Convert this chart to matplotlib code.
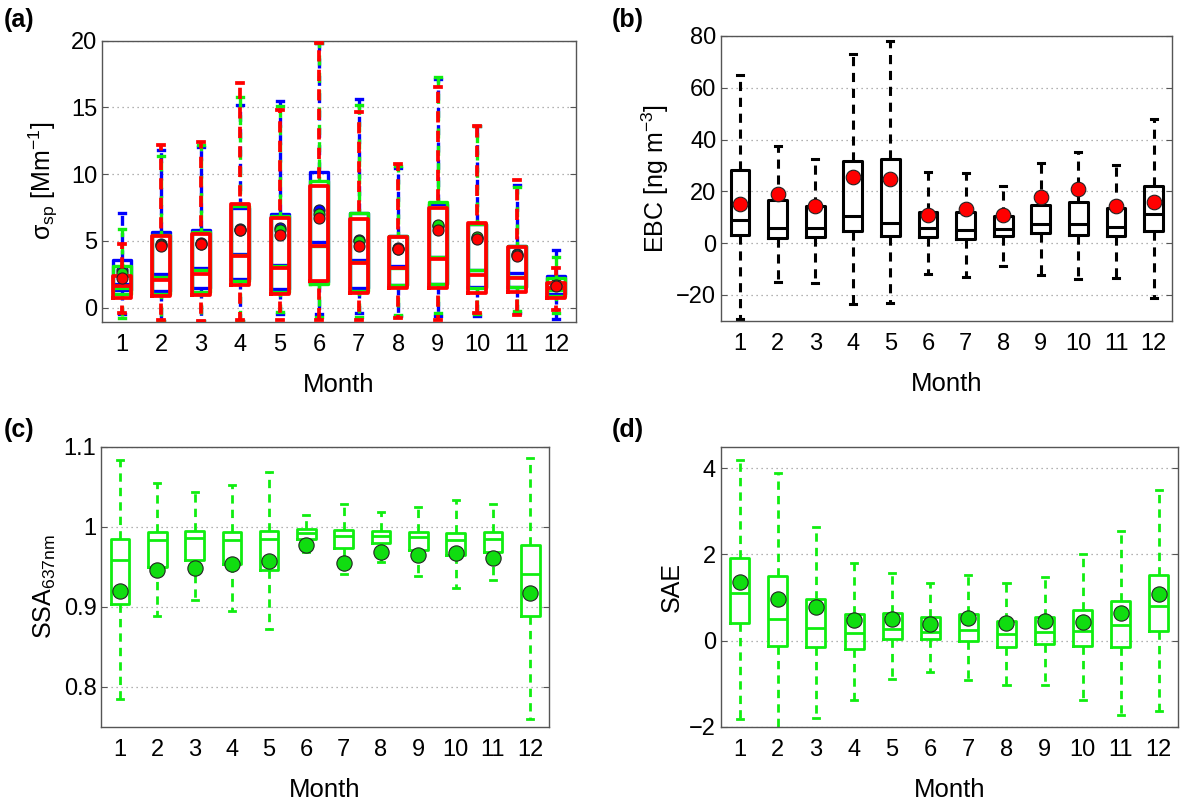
import matplotlib
matplotlib.use("Agg")
import matplotlib.pyplot as plt

plt.rcParams['font.family'] = ['Liberation Sans', 'DejaVu Sans']
plt.rcParams['mathtext.fontset'] = 'custom'
plt.rcParams['mathtext.rm'] = 'Liberation Sans'
plt.rcParams['mathtext.it'] = 'Liberation Sans:italic'
plt.rcParams['mathtext.sf'] = 'Liberation Sans'

months = list(range(1, 13))
month_labels = [str(m) for m in months]

# ---------------- panel (a): sigma_sp, three series ----------------
a_blue_lo  = [-0.5, -1.0, -1.0, -1.0, -0.5, -0.48, -0.4, -0.65, -0.6, -0.6, -0.4, -0.85]
a_blue_q1  = [1.33, 1.25, 1.45, 2.15, 1.4, 1.9, 1.45, 1.7, 1.75, 1.53, 1.58, 1.0]
a_blue_med = [1.8, 2.53, 2.95, 4.05, 3.2, 4.95, 3.58, 3.1, 3.83, 2.83, 2.58, 1.5]
a_blue_q3  = [3.6, 5.7, 5.83, 7.45, 7.05, 10.15, 7.08, 5.4, 7.8, 6.3, 4.6, 2.4]
a_blue_hi  = [7.1, 11.8, 12.05, 15.2, 15.5, 19.8, 15.6, 10.45, 17.1, 13.6, 9.2, 4.35]
a_blue_mean = [2.8, 4.8, 4.85, 5.9, 6.0, 7.3, 5.1, 4.45, 6.1, 5.25, 4.0, 1.75]

a_green_lo  = [-0.8, -1.0, -1.0, -1.0, -0.3, -0.7, -0.7, -0.55, -0.43, -0.5, -0.25, -0.38]
a_green_q1  = [1.03, 1.0, 1.2, 2.0, 1.2, 1.8, 1.25, 1.7, 1.75, 1.5, 1.58, 0.9]
a_green_med = [1.45, 2.33, 2.8, 3.95, 3.1, 4.6, 3.45, 3.0, 3.8, 2.83, 2.33, 1.35]
a_green_q3  = [3.13, 5.45, 5.7, 7.6, 6.9, 9.5, 7.08, 5.35, 7.9, 6.3, 4.6, 2.2]
a_green_hi  = [5.9, 11.4, 12.2, 15.75, 15.1, 19.8, 15.2, 10.6, 17.3, 13.6, 9.03, 3.8]
a_green_mean = [2.6, 4.7, 4.8, 5.85, 5.8, 7.0, 5.0, 4.4, 6.2, 5.3, 3.95, 1.7]

a_red_lo  = [-0.37, -0.95, -0.97, -0.93, -0.93, -0.93, -0.93, -0.8, -0.93, -0.43, -0.55, -0.17]
a_red_q1  = [0.75, 0.85, 0.95, 1.7, 1.05, 2.0, 1.08, 1.5, 1.5, 1.13, 1.2, 0.75]
a_red_med = [1.6, 2.08, 2.53, 3.9, 3.0, 4.6, 3.35, 2.95, 3.63, 2.45, 2.2, 1.45]
a_red_q3  = [2.4, 5.33, 5.53, 7.78, 6.7, 9.1, 6.65, 5.28, 7.45, 6.33, 4.53, 1.88]
a_red_hi  = [4.75, 12.2, 12.38, 16.8, 14.8, 19.8, 14.7, 10.75, 16.5, 13.6, 9.53, 3.0]
a_red_mean = [2.22, 4.58, 4.78, 5.83, 5.45, 6.7, 4.62, 4.38, 5.83, 5.13, 3.88, 1.63]

# ---------------- panel (b): EBC ----------------
b_lo  = [-29.2, -15.1, -15.3, -23.4, -23.2, -12.1, -12.9, -9.0, -12.5, -13.8, -13.4, -21.1]
b_q1  = [3.3, 1.9, 2.3, 4.6, 2.6, 2.3, 1.7, 2.7, 3.9, 3.2, 2.7, 4.5]
b_med = [8.8, 5.9, 5.8, 10.6, 7.7, 5.9, 5.2, 5.3, 7.5, 7.5, 6.2, 11.3]
b_q3  = [28.1, 16.5, 14.5, 31.9, 32.6, 12.2, 12.0, 10.3, 14.8, 15.8, 13.6, 21.9]
b_hi  = [64.8, 37.7, 32.6, 72.9, 77.9, 27.4, 27.0, 22.1, 30.9, 35.1, 30.3, 47.8]
b_mean = [15.2, 18.8, 14.5, 25.4, 24.8, 10.9, 13.3, 10.7, 18.0, 21.0, 14.2, 15.8]

# ---------------- panel (c): SSA 637 nm ----------------
c_lo  = [0.785, 0.888, 0.908, 0.895, 0.872, 0.969, 0.941, 0.956, 0.938, 0.924, 0.933, 0.760]
c_q1  = [0.904, 0.950, 0.959, 0.953, 0.946, 0.985, 0.974, 0.980, 0.971, 0.965, 0.969, 0.888]
c_med = [0.959, 0.983, 0.986, 0.983, 0.985, 0.9925, 0.988, 0.989, 0.9875, 0.983, 0.985, 0.941]
c_q3  = [0.985, 0.993, 0.995, 0.993, 0.995, 0.997, 0.996, 0.995, 0.993, 0.9925, 0.993, 0.977]
c_hi  = [1.084, 1.055, 1.043, 1.052, 1.068, 1.015, 1.029, 1.019, 1.025, 1.033, 1.029, 1.086]
c_mean = [0.920, 0.946, 0.948, 0.953, 0.957, 0.977, 0.955, 0.968, 0.965, 0.967, 0.961, 0.9175]

# ---------------- panel (d): SAE ----------------
d_lo  = [-1.82, -2.1, -1.80, -1.39, -0.89, -0.73, -0.91, -1.04, -1.03, -1.39, -1.73, -1.63]
d_q1  = [0.40, -0.12, -0.14, -0.19, 0.03, 0.03, -0.02, -0.14, -0.08, -0.12, -0.15, 0.22]
d_med = [1.11, 0.50, 0.29, 0.17, 0.27, 0.21, 0.25, 0.15, 0.21, 0.22, 0.36, 0.81]
d_q3  = [1.92, 1.49, 0.97, 0.61, 0.65, 0.55, 0.61, 0.45, 0.55, 0.72, 0.92, 1.53]
d_hi  = [4.19, 3.89, 2.64, 1.79, 1.56, 1.33, 1.52, 1.34, 1.48, 2.00, 2.54, 3.50]
d_mean = [1.36, 0.96, 0.77, 0.48, 0.50, 0.385, 0.53, 0.40, 0.45, 0.42, 0.63, 1.08]

GREEN = '#10ee10'
GREEN_M = '#10dd10'


def stats_from(lo, q1, med, q3, hi, mean):
    return [dict(whislo=a, q1=b, med=c, q3=d, whishi=e, mean=f, fliers=[])
            for a, b, c, d, e, f in zip(lo, q1, med, q3, hi, mean)]


def draw(ax, stats, color, lw, mface, ms, dash_off=0.0, width=0.45, z=2):
    ax.bxp(stats, positions=months, widths=width, showmeans=True, showfliers=False,
           manage_ticks=False, capwidths=0.16,
           boxprops=dict(color=color, linewidth=lw, zorder=z),
           whiskerprops=dict(color=color, linewidth=lw, linestyle=(dash_off, (3.0, 2.2)), zorder=z),
           capprops=dict(color=color, linewidth=lw, zorder=z),
           medianprops=dict(color=color, linewidth=lw, zorder=z),
           meanprops=dict(marker='o', markerfacecolor=mface, markeredgecolor='#222222',
                          markeredgewidth=0.8, markersize=ms, zorder=z + 1))


def style(ax, ylim, yticks, yticklabels, ylabel, xpad=12):
    ax.set_xlim(0.5, 12.5)
    ax.set_ylim(*ylim)
    ax.set_xticks(months)
    ax.set_xticklabels(month_labels)
    ax.set_yticks(yticks)
    ax.set_yticklabels(yticklabels)
    ax.yaxis.grid(True, linestyle=(0, (1, 3)), color='#999999', linewidth=0.9)
    ax.set_axisbelow(True)
    ax.tick_params(axis='both', labelsize=17, direction='in', length=4, color='#555555',
                   right=True, top=False)
    ax.tick_params(axis='x', length=0, pad=9)
    for s in ax.spines.values():
        s.set_color('#555555')
        s.set_linewidth(1.0)
    ax.set_xlabel('Month', fontsize=18.5, labelpad=xpad)
    ax.set_ylabel(ylabel, fontsize=18)


fig = plt.figure(figsize=(12, 8), dpi=100)
ax_a = fig.add_axes([0.085, 0.598, 0.395, 0.351])
ax_b = fig.add_axes([0.601, 0.599, 0.376, 0.356])
ax_c = fig.add_axes([0.0844, 0.0916, 0.373, 0.350])
ax_d = fig.add_axes([0.6006, 0.0916, 0.381, 0.350])

# (a)
draw(ax_a, stats_from(a_blue_lo, a_blue_q1, a_blue_med, a_blue_q3, a_blue_hi, a_blue_mean),
     '#0000ff', 2.4, '#0000ff', 8, dash_off=0.0, z=2)
draw(ax_a, stats_from(a_green_lo, a_green_q1, a_green_med, a_green_q3, a_green_hi, a_green_mean),
     GREEN, 2.4, GREEN_M, 8, dash_off=1.6, z=4)
draw(ax_a, stats_from(a_red_lo, a_red_q1, a_red_med, a_red_q3, a_red_hi, a_red_mean),
     '#ff0000', 2.7, '#ff0000', 8, dash_off=3.2, z=6)
style(ax_a, (-1.05, 20), [0, 5, 10, 15, 20], ['0', '5', '10', '15', '20'],
      'σ$_{\\rm sp}$ [Mm$^{-1}$]')
ax_a.yaxis.labelpad = 8

# (b)
draw(ax_b, stats_from(b_lo, b_q1, b_med, b_q3, b_hi, b_mean), 'black', 2.2, '#ff0000', 10.5,
     width=0.5)
style(ax_b, (-30, 80), [-20, 0, 20, 40, 60, 80], ['\u221220', '0', '20', '40', '60', '80'],
      r'EBC [ng m$^{-3}$]')

# (c)
draw(ax_c, stats_from(c_lo, c_q1, c_med, c_q3, c_hi, c_mean), GREEN, 2.0, GREEN_M, 11,
     width=0.5)
style(ax_c, (0.75, 1.1), [0.8, 0.9, 1.0, 1.1], ['0.8', '0.9', '1', '1.1'],
      r'SSA$_{\rm 637nm}$')

# (d)
draw(ax_d, stats_from(d_lo, d_q1, d_med, d_q3, d_hi, d_mean), GREEN, 2.0, GREEN_M, 11,
     width=0.5)
style(ax_d, (-2, 4.5), [-2, 0, 2, 4], ['\u22122', '0', '2', '4'], 'SAE')

for lab, x, y in [('(a)', 0.003, 0.975), ('(b)', 0.51, 0.975), ('(c)', 0.003, 0.462), ('(d)', 0.51, 0.462)]:
    fig.text(x, y, lab, fontsize=18, fontweight='bold', ha='left', va='center')

fig.savefig('out.png', dpi=100)
